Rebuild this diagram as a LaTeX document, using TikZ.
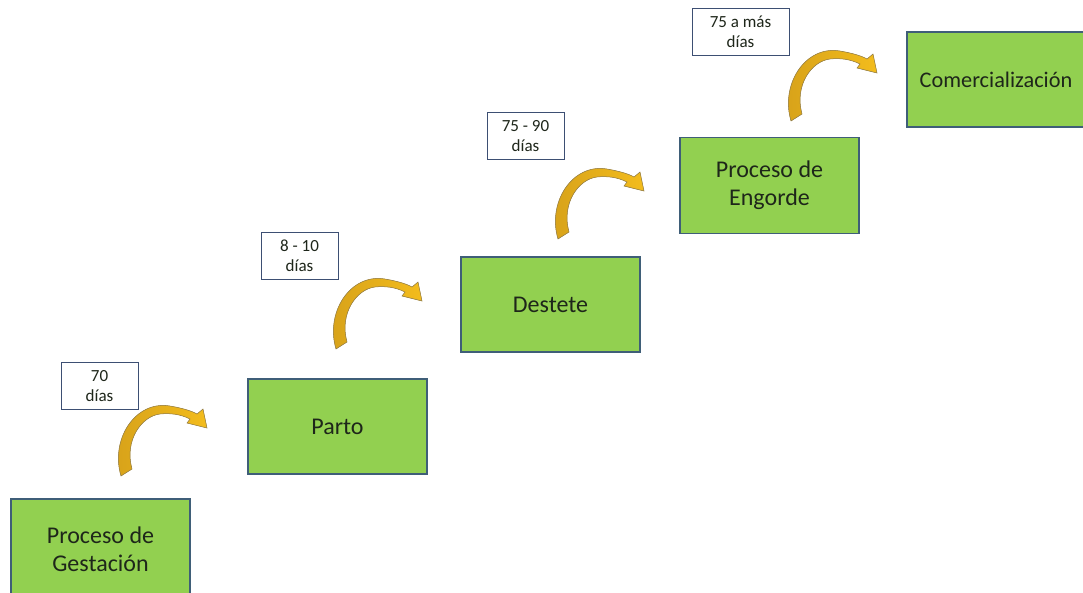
\documentclass[tikz,border=0pt]{standalone}
\usepackage{fontspec}
\setmainfont{Carlito}
\definecolor{boxgreen}{HTML}{92D050}
\definecolor{boxborder}{HTML}{3F5E78}
\definecolor{smallborder}{HTML}{3D4F73}
\definecolor{txt}{HTML}{1E261A}
\definecolor{goldA}{HTML}{D6A11A}
\definecolor{goldB}{HTML}{F3BC1C}
\definecolor{goldline}{HTML}{8C7A4E}
\begin{document}
\begin{tikzpicture}[x=1pt,y=-1pt,
  stage/.style={draw=boxborder,line width=1.1pt,fill=boxgreen,minimum width=179pt,minimum height=95pt,inner sep=0pt,align=center,text=txt,font=\fontsize{24}{28}\selectfont},
  period/.style={draw=smallborder,line width=0.9pt,fill=white,minimum width=77pt,minimum height=47pt,inner sep=0pt,align=center,text=txt,font=\fontsize{17}{20}\selectfont},
  curvarrow/.style={fill=goldB,draw=goldline,line width=0.5pt,left color=goldA,right color=goldB}
]
\useasboundingbox (0,0) rectangle (1083,592);
% stages
\node[stage,minimum height=100pt] (gest) at (100.5,549) {Proceso de\\Gestación};
\node[stage] (parto) at (337.5,426.5) {Parto};
\node[stage] (destete) at (550.5,304.5) {Destete};
\node[stage,minimum height=96pt] (engorde) at (769.5,185.5) {Proceso de\\Engorde};
\node[stage,minimum width=178pt,font=\fontsize{22.3}{26}\selectfont] (comer) at (996,79.5) {Comercialización};
% periods
\node[period] (p1) at (99.5,386) {70\\días};
\node[period] (p2) at (299.5,256) {8 - 10\\días};
\node[period] (p3) at (525.5,136) {75 - 90\\días};
\node[period,minimum width=97pt] (p4) at (740.5,32) {75 a más\\días};
% curved arrows
\foreach \dx/\dy/\nm in {0/0/a1,215/-127/a2,437/-237/a3,670/-355/a4}{
  \begin{scope}[shift={(\dx,\dy)}]
    \coordinate (\nm) at (160,430);
    \path[curvarrow] (121,476) .. controls (110,440) and (135,400) .. (170,406)
      .. controls (182,408) and (192,411) .. (197,414)
      -- (203,409) -- (207,428) -- (187,423) -- (190,419)
      .. controls (180,414) and (170,413) .. (160,414)
      .. controls (142,416) and (124,440) .. (132,469) -- cycle;
  \end{scope}
}
\end{tikzpicture}
\end{document}
